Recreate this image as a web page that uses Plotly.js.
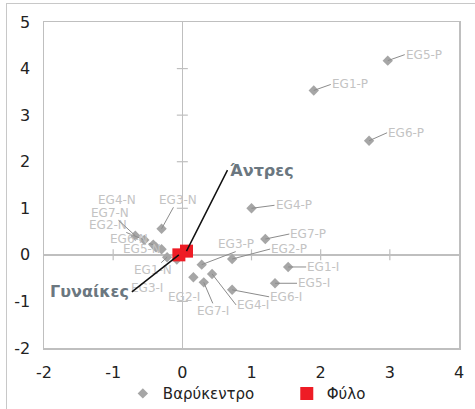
<!DOCTYPE html>
<html><head><meta charset="utf-8">
<script src="https://cdn.plot.ly/plotly-3.0.1.min.js"></script>
<style>
html,body{margin:0;padding:0;background:#fff;overflow:hidden;}
#wrap{position:relative;width:475px;height:409px;overflow:hidden;}
#chart{width:475px;height:409px;}
#frame{position:absolute;left:6px;top:3px;width:700px;height:700px;border-left:1.5px solid #c8c8c8;border-top:1.5px solid #c8c8c8;pointer-events:none;}
</style>
</head><body>
<div id="wrap"><div id="chart"></div><div id="frame"></div></div>
<script>
// ---- data ----
const pointLabels = ['EG1-P','EG2-P','EG3-P','EG4-P','EG5-P','EG6-P','EG7-P',
                     'EG1-I','EG2-I','EG3-I','EG4-I','EG5-I','EG6-I','EG7-I',
                     'EG1-N','EG2-N','EG3-N','EG4-N','EG5-N','EG6-N','EG7-N'];
const pointX = [1.90, 0.72, 0.28, 1.00, 2.97, 2.70, 1.20,
                1.53, 0.16, -0.08, 0.43, 1.34, 0.72, 0.31,
                -0.22, -0.55, -0.30, -0.38, -0.30, -0.42, -0.68];
const pointY = [3.53, -0.09, -0.21, 1.00, 4.17, 2.45, 0.34,
                -0.26, -0.48, -0.10, -0.41, -0.61, -0.75, -0.59,
                -0.05, 0.32, 0.56, 0.16, 0.12, 0.22, 0.41];
const sexLabels = ['Άντρες', 'Γυναίκες'];
const sexX = [0.06, -0.05];
const sexY = [0.08, 0.00];
const xTicks = [-2, -1, 0, 1, 2, 3, 4];
const yTicks = [-2, -1, 0, 1, 2, 3, 4, 5];
const seriesNames = ['Βαρύκεντρο', 'Φύλο'];

// ---- label placement (style, pixel offsets) ----
const labelStyle = {
  'EG1-P':{ax:17,ay:-6,xa:'left',ya:'middle',lead:true},
  'EG2-P':{ax:38,ay:-10,xa:'left',ya:'middle',lead:true},
  'EG3-P':{ax:34,ay:-13,xa:'center',ya:'bottom',lead:true},
  'EG4-P':{ax:23,ay:-3,xa:'left',ya:'middle',lead:true},
  'EG5-P':{ax:17,ay:-6,xa:'left',ya:'middle',lead:true},
  'EG6-P':{ax:18,ay:-8,xa:'left',ya:'middle',lead:true},
  'EG7-P':{ax:24,ay:-5,xa:'left',ya:'middle',lead:true},
  'EG1-I':{ax:18,ay:0,xa:'left',ya:'middle',lead:true},
  'EG2-I':{ax:-9,ay:20,xa:'center',ya:'middle',lead:false},
  'EG3-I':{ax:-30,ay:28,xa:'center',ya:'middle',lead:false},
  'EG4-I':{ax:24,ay:31,xa:'left',ya:'middle',lead:true},
  'EG5-I':{ax:22,ay:0,xa:'left',ya:'middle',lead:true},
  'EG6-I':{ax:37,ay:7,xa:'left',ya:'middle',lead:true},
  'EG7-I':{ax:9,ay:21,xa:'center',ya:'top',lead:true},
  'EG1-N':{ax:-14,ay:13,xa:'center',ya:'middle',lead:true},
  'EG2-N':{ax:-36,ay:-15,xa:'center',ya:'middle',lead:true},
  'EG3-N':{ax:16,ay:-29,xa:'center',ya:'middle',lead:true},
  'EG4-N':{ax:-39,ay:-47,xa:'center',ya:'middle',lead:false},
  'EG5-N':{ax:-20,ay:0,xa:'center',ya:'middle',lead:false},
  'EG6-N':{ax:-24,ay:-6,xa:'center',ya:'middle',lead:true},
  'EG7-N':{ax:-25,ay:-23,xa:'center',ya:'middle',lead:true}
};
const sexStyle = [
  {ax:41, ay:-81, xa:'left'},
  {ax:-47, ay:37, xa:'right'}
];

const FONT = 'DejaVu Sans, Liberation Sans, sans-serif';

const traces = [
  {x: pointX, y: pointY, text: pointLabels, type: 'scatter', mode: 'markers', name: seriesNames[0],
   legend: 'legend', marker: {symbol: 'diamond', size: 8, color: '#a6a6a6'}},
  {x: sexX, y: sexY, text: sexLabels, type: 'scatter', mode: 'markers', name: seriesNames[1],
   legend: 'legend2', marker: {symbol: 'square', size: 13, color: '#ee1c25'}}
];

const annotations = [];
pointLabels.forEach((lab, i) => {
  const s = labelStyle[lab];
  annotations.push({
    x: pointX[i], y: pointY[i], xref: 'x', yref: 'y', text: lab,
    showarrow: true, arrowhead: 0, arrowwidth: 1, standoff: 0, startstandoff: 0,
    arrowcolor: s.lead ? '#8c8c8c' : 'rgba(0,0,0,0)',
    ax: s.ax, ay: s.ay, xanchor: s.xa, yanchor: s.ya, borderpad: 0,
    font: {family: FONT, size: 12, color: '#c3c3c3'}
  });
});
sexLabels.forEach((lab, i) => {
  const s = sexStyle[i];
  annotations.push({
    x: sexX[i], y: sexY[i], xref: 'x', yref: 'y', text: '<b>' + lab + '</b>',
    showarrow: true, arrowhead: 0, arrowwidth: 1.5, standoff: 0, arrowcolor: '#111',
    ax: s.ax, ay: s.ay, xanchor: s.xa, yanchor: 'middle', borderpad: 2,
    font: {family: FONT, size: 16, color: '#6b7780'}
  });
});

const shapes = [];
xTicks.filter(t => t !== 0 && t !== xTicks[0] && t !== xTicks[xTicks.length-1]).forEach(t => {
  shapes.push({type: 'line', xref: 'x', yref: 'y', x0: t, x1: t, ysizemode: 'pixel', yanchor: 0,
    y0: -5.5, y1: 5.5, line: {color: '#bfbfbf', width: 1.2}, layer: 'below'});
});
yTicks.filter(t => t !== 0 && t !== yTicks[0] && t !== yTicks[yTicks.length-1]).forEach(t => {
  shapes.push({type: 'line', xref: 'x', yref: 'y', y0: t, y1: t, xsizemode: 'pixel', xanchor: 0,
    x0: -5.5, x1: 5.5, line: {color: '#bfbfbf', width: 1.2}, layer: 'below'});
});

const axisCommon = {
  showgrid: false, zeroline: true, zerolinecolor: '#bfbfbf', zerolinewidth: 1.5,
  showline: true, mirror: true, linecolor: '#bfbfbf', linewidth: 1.5,
  ticks: '', tickmode: 'array', fixedrange: true, automargin: false,
  tickfont: {family: FONT, size: 16, color: '#222'}
};

const legendCommon = {orientation: 'h', xanchor: 'left', y: -0.14, yanchor: 'middle',
  font: {family: FONT, size: 15, color: '#222'}, itemwidth: 30, bgcolor: 'rgba(0,0,0,0)'};

const layout = {
  width: 475, height: 409,
  margin: {l: 44, r: 16, t: 22, b: 61, autoexpand: false},
  paper_bgcolor: '#fff', plot_bgcolor: '#fff',
  showlegend: true,
  legend: Object.assign({}, legendCommon, {x: 0.19}),
  legend2: Object.assign({}, legendCommon, {x: 0.585}),
  xaxis: Object.assign({}, axisCommon, {range: [xTicks[0], xTicks[xTicks.length-1]],
    tickvals: xTicks, ticktext: xTicks.map(String), ticklabelstandoff: 9}),
  yaxis: Object.assign({}, axisCommon, {range: [yTicks[0], yTicks[yTicks.length-1]],
    tickvals: yTicks, ticktext: yTicks.map(String), ticklabelstandoff: 9}),
  annotations: annotations,
  shapes: shapes
};

Plotly.newPlot('chart', traces, layout, {staticPlot: true, displayModeBar: false});
</script>
</body></html>
